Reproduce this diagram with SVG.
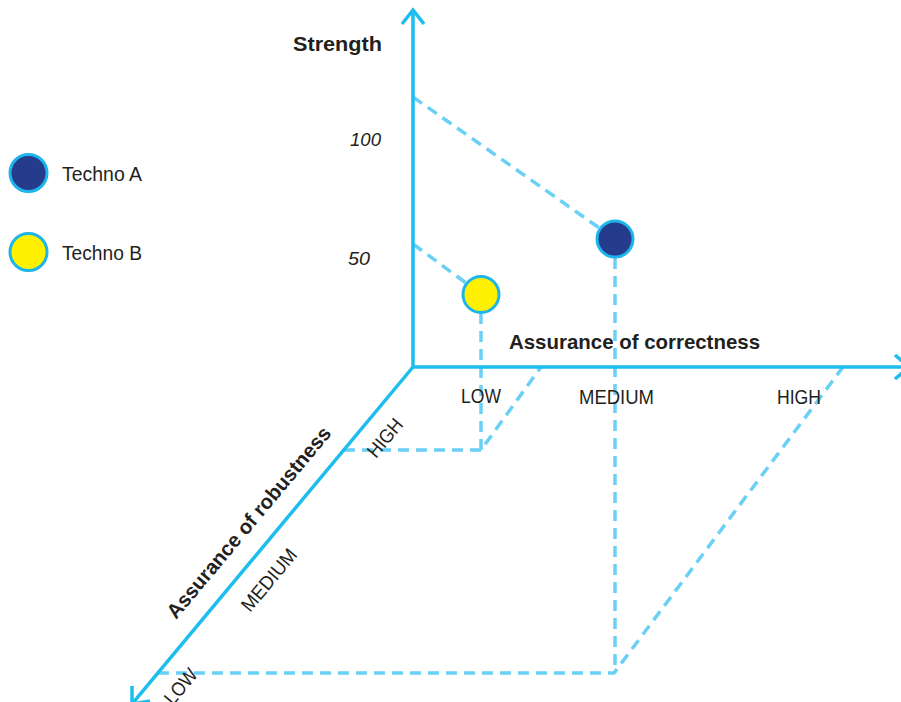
<svg xmlns="http://www.w3.org/2000/svg" width="901" height="702" viewBox="0 0 901 702">
  <style>
    .axis { fill: none; stroke: #1DBDEF; stroke-width: 3.5; stroke-linejoin: miter; }
    .guide { fill: none; stroke: #6BD0F5; stroke-width: 3.5; stroke-dasharray: 11 7; }
    .dot { stroke: #1DB5EA; stroke-width: 3; }
    .a { fill: #253B8C; }
    .b { fill: #FFF100; }
    text { font-family: "Liberation Sans", Arial, sans-serif; fill: #231F20; }
    .bold { font-weight: bold; font-size: 20.5px; }
    .lbl { font-size: 19.5px; }
    .num { font-size: 19px; font-style: italic; }
  </style>
  <rect width="901" height="702" fill="#FFFFFF"/>

  <g id="guides">
    <path class="guide" d="M413,97 L615,239"/>
    <path class="guide" d="M413,244 L481,294"/>
    <path class="guide" d="M615,258 V673"/>
    <path class="guide" d="M481,313 V450"/>
    <path class="guide" d="M344,450 H481 L541,367"/>
    <path class="guide" d="M158,673 H614 L843,367"/>
  </g>

  <g id="axes">
    <path class="axis" d="M413,10 L413,367 L905,367"/>
    <path class="axis" d="M413,367 L132,704"/>
    <path class="axis" d="M402,24 L413,10 L424,24"/>
    <path class="axis" d="M895,355 L909,367 L895,379"/>
    <path class="axis" d="M132,686 L132,704 L150,701"/>
  </g>

  <g id="techno-a-point">
    <circle class="dot a" cx="615" cy="239" r="18"/>
  </g>
  <g id="techno-b-point">
    <circle class="dot b" cx="481" cy="294.5" r="18"/>
  </g>

  <g id="legend">
    <g id="legend-a">
      <circle class="dot a" cx="28.5" cy="173" r="18.5"/>
      <text class="lbl" x="62" y="181" textLength="80" lengthAdjust="spacingAndGlyphs">Techno A</text>
    </g>
    <g id="legend-b">
      <circle class="dot b" cx="28.5" cy="252" r="18.5"/>
      <text class="lbl" x="62" y="260" textLength="80" lengthAdjust="spacingAndGlyphs">Techno B</text>
    </g>
  </g>

  <g id="labels">
    <text class="bold" x="293" y="51" textLength="89" lengthAdjust="spacingAndGlyphs">Strength</text>
    <text class="num" x="350" y="146" textLength="31" lengthAdjust="spacingAndGlyphs">100</text>
    <text class="num" x="348" y="265" textLength="22" lengthAdjust="spacingAndGlyphs">50</text>
    <text class="bold" x="509" y="349" textLength="251" lengthAdjust="spacingAndGlyphs">Assurance of correctness</text>
    <text class="lbl" x="461" y="403" textLength="40" lengthAdjust="spacingAndGlyphs">LOW</text>
    <text class="lbl" x="579" y="404" textLength="75" lengthAdjust="spacingAndGlyphs">MEDIUM</text>
    <text class="lbl" x="777" y="404" textLength="44" lengthAdjust="spacingAndGlyphs">HIGH</text>
    <text class="bold" transform="translate(176,620) rotate(-50)" textLength="243" lengthAdjust="spacingAndGlyphs">Assurance of robustness</text>
    <text class="lbl" transform="translate(376,459) rotate(-50)" textLength="44" lengthAdjust="spacingAndGlyphs">HIGH</text>
    <text class="lbl" transform="translate(250,613) rotate(-50)" textLength="75" lengthAdjust="spacingAndGlyphs">MEDIUM</text>
    <text class="lbl" transform="translate(173,706) rotate(-50)" textLength="40" lengthAdjust="spacingAndGlyphs">LOW</text>
  </g>
</svg>
